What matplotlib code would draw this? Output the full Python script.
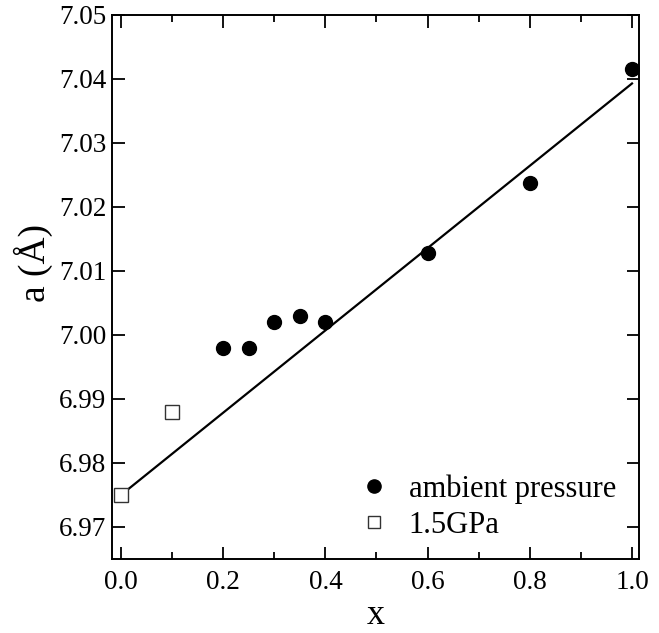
import numpy as np
import matplotlib
matplotlib.use('Agg')
import matplotlib.pyplot as plt
from matplotlib.ticker import MultipleLocator

plt.rcParams['font.family'] = ['Liberation Serif', 'DejaVu Serif']

# ambient pressure data (filled circles)
x_amb = [0.2, 0.25, 0.3, 0.35, 0.4, 0.6, 0.8, 1.0]
a_amb = [6.998, 6.998, 7.002, 7.003, 7.002, 7.0128, 7.0237, 7.0415]

# 1.5 GPa data (open squares)
x_hp = [0.0, 0.1]
a_hp = [6.975, 6.988]

# linear fit line endpoints
x_fit = [0.0, 1.0]
a_fit = [6.975, 7.0393]

fig = plt.figure(figsize=(6.59, 6.33), dpi=100)
ax = fig.add_axes([112/659, 1 - 559/633, (639-112)/659, (559-15)/633])

ax.plot(x_fit, a_fit, color='black', lw=1.6, zorder=1)
ax.plot(x_amb, a_amb, 'o', color='black', ms=10, zorder=3, label='ambient pressure')
ax.plot(x_hp, a_hp, 's', mfc='white', mec='#333333', mew=1.0, ms=9.5, zorder=2, label='1.5GPa')

ax.set_xlim(-0.0176, 1.0137)
ax.set_ylim(6.965, 7.05)

ax.xaxis.set_major_locator(MultipleLocator(0.2))
ax.xaxis.set_minor_locator(MultipleLocator(0.1))
ax.yaxis.set_major_locator(MultipleLocator(0.01))
ax.xaxis.set_major_formatter(plt.FormatStrFormatter('%.1f'))
ax.yaxis.set_major_formatter(plt.FormatStrFormatter('%.2f'))

ax.tick_params(axis='both', which='both', direction='in', top=True, right=True)
ax.tick_params(axis='both', which='major', length=9, width=1.3, labelsize=19.5)
ax.tick_params(axis='x', which='major', pad=8)
ax.tick_params(axis='y', which='major', pad=4)
ax.tick_params(axis='x', which='minor', length=5, width=1.3)
for sp in ax.spines.values():
    sp.set_linewidth(1.4)

ax.set_xlabel('x', fontsize=26)
ax.set_ylabel('a (Å)', fontsize=27)
ax.xaxis.set_label_coords(0.5, -0.074)
ax.yaxis.set_label_coords(-0.112, 0.545)

leg = ax.legend(loc='lower right', bbox_to_anchor=(1.0, -0.007), frameon=False,
                fontsize=22, handlelength=0.8, handletextpad=0.75, labelspacing=0.22,
                markerscale=0.95, borderaxespad=0.35, borderpad=0.4)

fig.savefig('out.png', dpi=100)
